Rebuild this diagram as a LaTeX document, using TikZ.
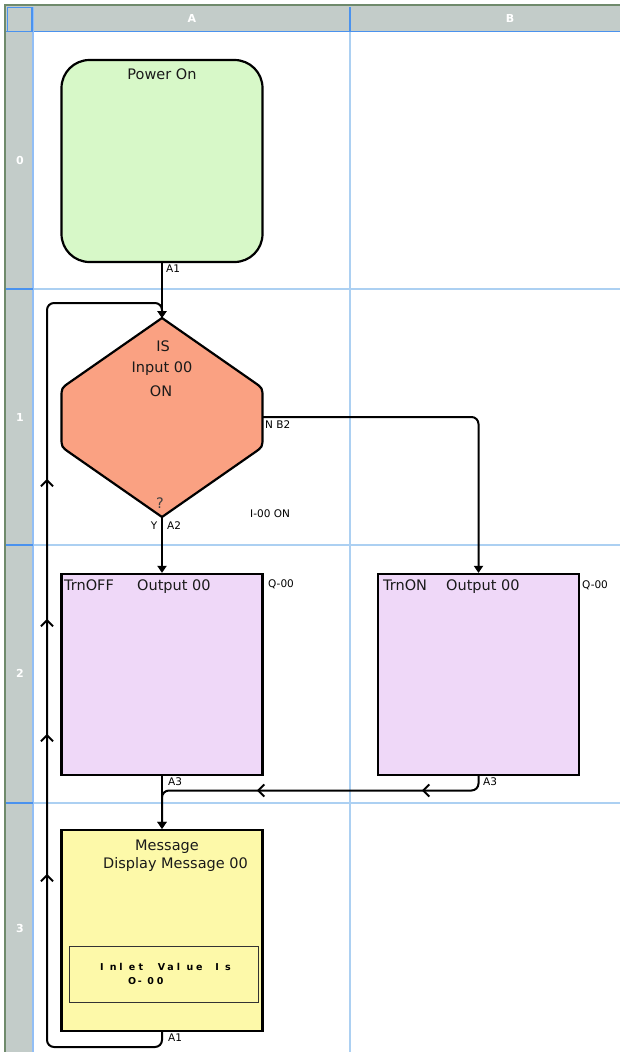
\documentclass[tikz,border=0pt]{standalone}
\usepackage{fontspec}
\setmainfont{DejaVu Sans}
\usetikzlibrary{arrows.meta,decorations.markings}
\definecolor{pwrgreen}{HTML}{D7F8C8}
\definecolor{salmon}{HTML}{FAA182}
\definecolor{lav}{HTML}{EFD8F8}
\definecolor{lemon}{HTML}{FDF9A9}
\definecolor{hdrgray}{HTML}{C3CCC9}
\definecolor{hdrblue}{HTML}{4A92EE}
\definecolor{gridblue}{HTML}{ACD0F2}
\definecolor{outer}{HTML}{6F8A6C}
\definecolor{ink}{HTML}{1A1A1A}
\newcommand\lcdspace[1]{\lcdspaceI#1\relax}
\def\lcdspaceI#1{\ifx#1\relax\else\makebox[9.6pt][l]{#1}\expandafter\lcdspaceI\fi}
\tikzset{
  cv/.tip={Straight Barb[length=6pt,width=12pt]},
  conn/.style={line width=2pt, rounded corners=7pt, -{Triangle[length=7pt,width=9pt]}},
  box/.style={draw=black, line width=2.2pt, minimum width=201pt, minimum height=201pt, inner sep=0pt},
  txt/.style={text=ink, inner sep=0pt, font=\fontsize{14.5}{17}\selectfont},
  lbl/.style={text=black, inner sep=0pt, anchor=west, font=\fontsize{10.5}{12}\selectfont},
  hdr/.style={text=white, inner sep=0pt, font=\fontsize{11}{13}\selectfont\bfseries},
  lcd/.style={text=black, inner sep=0pt, anchor=west, font=\fontsize{9.5}{11}\selectfont\bfseries}
}
\begin{document}
\begin{tikzpicture}[x=1pt,y=-1pt]
\useasboundingbox (0,0) rectangle (620,1052);
\fill[white] (0,0) rectangle (620,1052);
% headers
\fill[hdrgray] (5,5) rectangle (620,31);
\fill[hdrgray] (5,5) rectangle (32,1052);
% light grid
\draw[gridblue, line width=1.1pt] (350,31) -- (350,1052);
\foreach \yy in {289,545,803} \draw[gridblue, line width=1.1pt] (33,\yy) -- (620,\yy);
% header separators
\draw[hdrblue, line width=1.8pt] (5,31.5) -- (620,31.5);
\draw[hdrblue!60, line width=1.4pt] (33,7) -- (33,1052);
\draw[hdrblue, line width=1.8pt] (350,7) -- (350,31);
\foreach \yy in {289,545,803} \draw[hdrblue, line width=1.8pt] (6,\yy) -- (33,\yy);
\draw[hdrblue, line width=1.8pt] (7.5,7.5) rectangle (32,31.5);
\draw[outer, line width=2.2pt] (5,1052) -- (5,5) -- (620,5);
\node[hdr] (colA) at (192,18) {A};
\node[hdr] (colB) at (510,18) {B};
\node[hdr] (row0) at (20,160) {0};
\node[hdr] (row1) at (20,417) {1};
\node[hdr] (row2) at (20,673) {2};
\node[hdr] (row3) at (20,928) {3};

% nodes
\node[box, fill=pwrgreen, rounded corners=28pt, minimum height=202pt] (pwr) at (162,161) {};
\node[txt] (pwrt) at (162,74) {Power On};

\coordinate (dtop) at (162,318);
\coordinate (dbot) at (162,517);
\coordinate (dright) at (262.5,417);
\filldraw[fill=salmon, draw=black, line width=2.2pt]
  (dtop) -- (254.3,382.3) .. controls (262.5,388) .. (262.5,398) -- (262.5,437)
  .. controls (262.5,447) .. (254.3,452.7) -- (dbot) -- (69.7,452.7)
  .. controls (61.5,447) .. (61.5,437) -- (61.5,398) .. controls (61.5,388) .. (69.7,382.3) -- cycle;
\node[txt] (d1) at (163,346) {IS};
\node[txt] (d2) at (162,369) {Input 00};
\node[txt] (d3) at (161,391) {ON};
\node[txt, text=black!75] (dq) at (160,503) {?};

\node[box, fill=lav] (off) at (162,674.5) {};
\node[txt, anchor=west] (offt) at (64,587) {\makebox[73pt][l]{TrnOFF}Output 00};
\node[box, fill=lav] (on) at (478.5,674.5) {};
\node[txt, anchor=west] (ont) at (383,587) {\makebox[63pt][l]{TrnON}Output 00};

\node[box, fill=lemon] (msg) at (162,930.5) {};
\node[txt] (msgt1) at (167,847) {Message};
\node[txt] (msgt2) at (175.5,864) {Display Message 00};
\node[draw=black!80, line width=1pt, minimum width=189pt, minimum height=56pt, inner sep=0pt] (lcdbox) at (163.5,974) {};
\node[lcd] (lcd1) at (100,967) {\lcdspace{Inlet~Value~Is}};
\node[lcd] (lcd2) at (128,981) {\lcdspace{O-00}};

% small labels
\node[lbl] (la1) at (166,269) {A1};
\node[lbl] (lnb2) at (265,425) {N B2};
\node[lbl, anchor=center] (ly) at (154,526) {Y};
\node[lbl] (la2) at (167,526) {A2};
\node[lbl] (li00) at (250,514) {I-00 ON};
\node[lbl] (lq1) at (268,584) {Q-00};
\node[lbl] (lq2) at (582,585) {Q-00};
\node[lbl] (la3a) at (168,782) {A3};
\node[lbl] (la3b) at (483,782) {A3};
\node[lbl] (la1b) at (168,1038) {A1};

% connectors
\coordinate (onbend) at (478.5,790.5);
\coordinate (msgbend) at (162,1047);
\coordinate (loopc) at (47,303);
\draw[conn] (pwr.south) -- (dtop);
\draw[conn] (dbot) -- (off.north);
\draw[conn] (dright) -| (on.north);
\draw[conn] (off.south) -- (msg.north);
\draw[conn, postaction={decorate}, decoration={markings,
    mark=at position 68pt with {\arrow{cv}},
    mark=at position 233pt with {\arrow{cv}}}]
  (on.south) -- (onbend) -| (msg.north);
\draw[conn, postaction={decorate}, decoration={markings,
    mark=at position 297pt with {\arrow{cv}},
    mark=at position 437pt with {\arrow{cv}},
    mark=at position 552pt with {\arrow{cv}},
    mark=at position 692pt with {\arrow{cv}}}]
  (msg.south) -- (msgbend) -| (loopc) -| (dtop);
\end{tikzpicture}
\end{document}
